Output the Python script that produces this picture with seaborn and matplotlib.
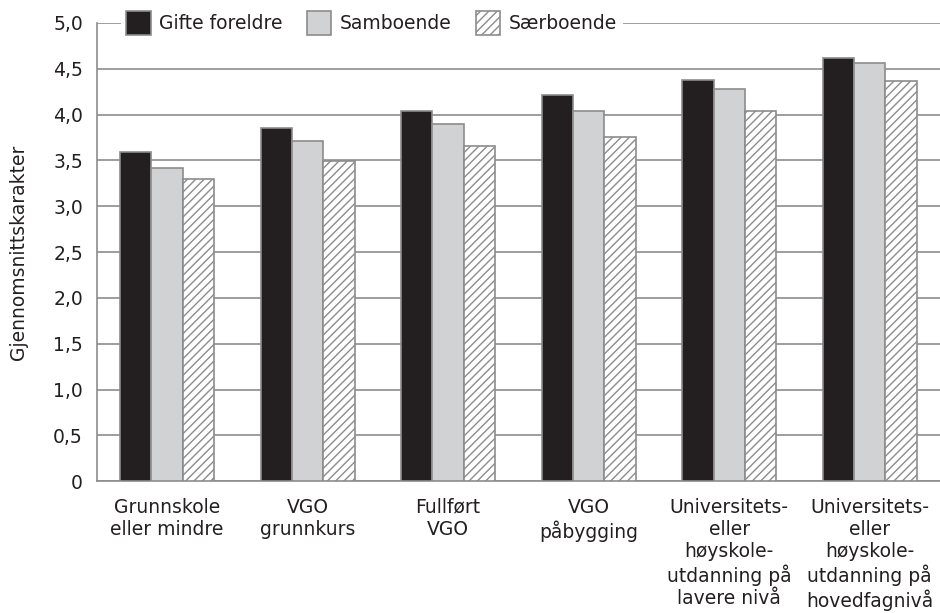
"""
Gjennomsnittskarakter etter foreldrenes utdanning og samlivsform
"""
import numpy as np
import pandas as pd
import matplotlib
matplotlib.use('Agg')
import matplotlib.pyplot as plt
import seaborn as sns
from matplotlib.ticker import FixedLocator, FuncFormatter

categories = [
    'Grunnskole\neller mindre',
    'VGO\ngrunnkurs',
    'Fullført\nVGO',
    'VGO\npåbygging',
    'Universitets-\neller\nhøyskole-\nutdanning på\nlavere nivå',
    'Universitets-\neller\nhøyskole-\nutdanning på\nhovedfagnivå',
]
series = ['Gifte foreldre', 'Samboende', 'Særboende']
gifte = [3.59, 3.85, 4.04, 4.21, 4.38, 4.62]
samboende = [3.42, 3.71, 3.90, 4.04, 4.28, 4.56]
saerboende = [3.30, 3.49, 3.66, 3.76, 4.04, 4.37]
yticks = [0, 0.5, 1.0, 1.5, 2.0, 2.5, 3.0, 3.5, 4.0, 4.5, 5.0]

colors = ['#231f20', '#d1d2d4', '#ffffff']
hatches = ['', '', '////']
edge = '#8c8c8c'
txt = '#231f20'
fs = 13.5

df = pd.DataFrame({
    'kategori': categories * 3,
    'gruppe': [s for s in series for _ in categories],
    'verdi': gifte + samboende + saerboende,
})

sns.set_style('white')
plt.rcParams['font.family'] = ['DejaVu Sans']
plt.rcParams['hatch.color'] = '#808080'
plt.rcParams['hatch.linewidth'] = 1.0

fig = plt.figure(figsize=(9.4, 6.13), dpi=100)
ax = fig.add_axes([0.103, 0.215, 0.897, 0.7475])

sns.barplot(data=df, x='kategori', y='verdi', hue='gruppe',
            palette=colors, width=0.67, edgecolor=edge, linewidth=1.2,
            saturation=1, ax=ax, legend=False, zorder=3)

for patches, h, c in zip(ax.containers, hatches, colors):
    for p in patches:
        p.set_hatch(h)
        p.set_facecolor(c)
        p.set_edgecolor(edge)

ax.set_ylim(0, 5.0)
ax.set_xlim(-0.5, len(categories) - 0.5)
ax.yaxis.set_major_locator(FixedLocator(yticks))
ax.yaxis.set_major_formatter(FuncFormatter(
    lambda v, _: '0' if v == 0 else f'{v:.1f}'.replace('.', ',')))
ax.grid(axis='y', color='#8c8c8c', linewidth=1.2, zorder=0)
ax.set_axisbelow(True)

for s in ['top', 'right']:
    ax.spines[s].set_visible(False)
for s in ['left', 'bottom']:
    ax.spines[s].set_color('#8c8c8c')
    ax.spines[s].set_linewidth(1.2)

ax.tick_params(axis='y', length=0, labelsize=fs, pad=10, colors=txt)
# category labels at centres, boundary ticks between groups
ax.tick_params(axis='x', which='major', length=0, labelsize=fs, pad=12,
               colors=txt)
ax.set_xticks(np.arange(-0.5, len(categories), 1.0), minor=True)
ax.tick_params(axis='x', which='minor', length=15, width=1.2, color='#8c8c8c')
for lab in ax.get_xticklabels():
    lab.set_linespacing(1.2)

ax.set_xlabel('')
ax.set_ylabel('Gjennomsnittskarakter', fontsize=fs, color=txt)
ax.yaxis.set_label_coords(-0.082, 0.5)

handles = [plt.Rectangle((0, 0), 1, 1, facecolor=c, edgecolor=edge, hatch=h,
                         linewidth=1.2) for c, h in zip(colors, hatches)]
leg = ax.legend(handles, series, loc='center', bbox_to_anchor=(0.326, 1.0),
                ncol=3, frameon=True, fontsize=fs, handlelength=1.3,
                handleheight=1.6, handletextpad=0.45, columnspacing=1.3,
                borderpad=0.3, framealpha=1, labelcolor=txt)
leg.get_frame().set_edgecolor('white')
leg.get_frame().set_linewidth(0)
leg.set_zorder(5)

fig.savefig('out.png', dpi=100)
